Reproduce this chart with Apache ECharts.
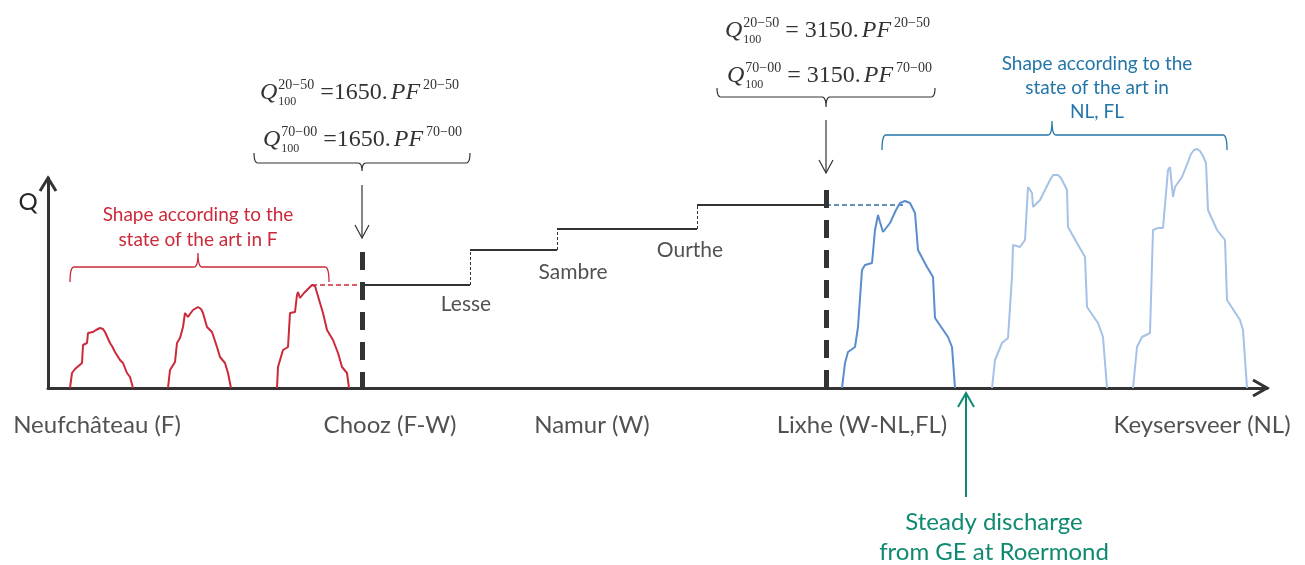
<!DOCTYPE html>
<html>
<head>
<meta charset="utf-8">
<script src="https://cdn.jsdelivr.net/npm/echarts@6/dist/echarts.min.js"></script>
<style>html,body{margin:0;padding:0;background:#fff}#c{width:1305px;height:565px}</style>
</head>
<body>
<div id="c"></div>
<script>
// ---- data (x = distance along the river, Q = discharge, schematic units) ----
const stations = ['Neufchâteau (F)', 'Chooz (F-W)', 'Namur (W)', 'Lixhe (W-NL,FL)', 'Keysersveer (NL)'];
const stationLabelX = [49, 342, 544, 814, 1154];
const tributaries = ['Lesse', 'Sambre', 'Ourthe'];
const tributaryLabelPos = [[418, 84], [525, 116], [642, 138]];
const stepX = [314, 422, 509, 649, 778];      // Chooz, Lesse, Sambre, Ourthe confluences, Lixhe
const stepQ = [103, 138, 159, 183];           // steady discharge levels between confluences
const choozX = 314, choozTop = 136;
const lixheX = 778, lixheTop = 198;
const redHydro1 = [[22,0],[24,15],[27,19],[29,21],[34,25],[35,43],[39,45],[40,55],[45,56],[48,58],[52,60],[55,59],[57,56],[62,45],[64,42],[67,36],[72,28],[75,25],[79,15],[82,11],[85,0]];
const redHydro2 = [[120,0],[122,18],[127,26],[129,45],[132,50],[135,61],[137,75],[140,71],[142,74],[145,78],[150,81],[153,79],[155,75],[159,61],[164,56],[169,41],[172,31],[177,25],[180,15],[183,0]];
const redHydro3 = [[229,0],[230,21],[235,38],[240,41],[242,75],[247,76],[249,93],[250,96],[252,90],[256,95],[259,98],[264,103],[267,102],[269,100],[272,85],[275,75],[279,58],[285,48],[290,35],[294,21],[299,15],[301,0]];
const blueHydro1 = [[794,0],[797,25],[800,36],[807,41],[810,61],[814,118],[817,123],[824,125],[827,158],[830,173],[832,166],[835,156],[842,165],[848,178],[852,185],[857,187],[862,185],[864,183],[867,175],[870,138],[879,121],[885,111],[887,70],[900,51],[904,41],[907,0]];
const blueHydro2 = [[944,0],[947,28],[954,45],[960,50],[964,111],[965,143],[972,141],[977,148],[980,201],[984,195],[985,181],[992,188],[998,200],[1002,208],[1005,213],[1007,214],[1010,213],[1013,210],[1016,204],[1019,198],[1020,161],[1029,145],[1037,131],[1039,81],[1050,65],[1055,51],[1059,0]];
const blueHydro3 = [[1085,0],[1089,41],[1094,51],[1102,55],[1105,158],[1110,160],[1115,160],[1120,218],[1122,221],[1125,191],[1127,201],[1134,211],[1140,226],[1143,234],[1146,238],[1149,239],[1152,237],[1155,232],[1158,225],[1160,178],[1169,158],[1177,148],[1179,88],[1192,68],[1195,58],[1199,0]];
const redPeakQ = 103, redPeakX = 264;
const bluePeakX = 857;

// ---- build ----
const chart = echarts.init(document.getElementById('c'), null, {renderer: 'canvas'});
const ctx = document.createElement('canvas').getContext('2d');
function tw(t, f) { ctx.font = f; return ctx.measureText(t).width; }
const DARK = '#333333', TXT = '#262626';
const RED = '#cc2a3a', BLUE_T = '#2476a8', GREEN = '#0f8a70';
const LABEL_FONT = 'Lato';

function hydro(data, color, w) {
  return {type: 'line', data: data, showSymbol: false, symbol: 'none', clip: false, silent: true,
    lineStyle: {color: color, width: w}, z: 3};
}
function seg(coords, style, z) {
  return {type: 'lines', coordinateSystem: 'cartesian2d', polyline: false, silent: true,
    data: coords.map(c => ({coords: c})), lineStyle: Object.assign({opacity: 1, curveness: 0}, style), z: z || 4};
}
const horiz = [], vert = [];
for (let i = 0; i < stepQ.length; i++) {
  horiz.push([[stepX[i], stepQ[i]], [stepX[i + 1], stepQ[i]]]);
  if (i > 0) vert.push([[stepX[i], stepQ[i - 1]], [stepX[i], stepQ[i]]]);
}

function txt(text, x, y, font, fill, align) {
  return {type: 'text', x: x, y: y, silent: true, z: 10,
    style: {text: text, font: font, fill: fill, textAlign: align || 'left', textVerticalAlign: 'middle', align: align || 'left', verticalAlign: 'middle'}};
}
function formula(x, cy, sup, num, spaced) {
  const fQ = 'italic 24px "Liberation Serif"', fS = '14px "Liberation Serif"', fB = '12px "Liberation Serif"', fM = '24px "Liberation Serif"';
  const c = '#333333';
  const els = [];
  els.push(txt('Q', x, cy, fQ, c));
  const xs = x + tw('Q', fQ) + 1;
  els.push(txt(sup, xs, cy - 8, fS, c));
  els.push(txt('100', xs, cy + 9, fB, c));
  const xe = xs + tw(sup, fS) + 6;
  const eq = '=' + (spaced ? ' ' : '') + num + '.';
  els.push(txt(eq, xe, cy, fM, c));
  const xp = xe + tw(eq, fM) + 3;
  els.push(txt('PF', xp, cy, fQ, c));
  els.push(txt(sup, xp + tw('PF', fQ) + 3, cy - 8, fS, c));
  return els;
}
function quad(p0, p1, p2, n) {
  const out = [];
  for (let i = 1; i <= n; i++) {
    const t = i / n, a = (1 - t) * (1 - t), b = 2 * (1 - t) * t, c = t * t;
    out.push([a * p0[0] + b * p1[0] + c * p2[0], a * p0[1] + b * p1[1] + c * p2[1]]);
  }
  return out;
}
function brace(x1, x2, xm, yh, e, t, color, w) {
  const r = 4, pts = [[x1, yh + e]];
  pts.push(...quad([x1, yh + e], [x1, yh], [x1 + r, yh], 6));
  pts.push([xm - r, yh]);
  pts.push(...quad([xm - r, yh], [xm, yh], [xm, yh + t], 6));
  pts.push(...quad([xm, yh + t], [xm, yh], [xm + r, yh], 6));
  pts.push([x2 - r, yh]);
  pts.push(...quad([x2 - r, yh], [x2, yh], [x2, yh + e], 6));
  return {type: 'polyline', silent: true, z: 10, shape: {points: pts}, style: {stroke: color, fill: null, lineWidth: w}};
}
function pl(points, color, w) {
  return {type: 'polyline', silent: true, z: 10, shape: {points: points}, style: {stroke: color, fill: null, lineWidth: w}};
}

const graphics = [].concat(
  // axis arrow heads
  pl([[40, 191], [48, 178], [56, 191]], DARK, 3),
  pl([[1253, 380], [1267, 388], [1253, 396]], DARK, 3),
  [txt('Q', 28, 202, '24px ' + LABEL_FONT, TXT, 'center')],
  // formulas + braces + arrows
  formula(260, 93, '20−50', '1650', false),
  formula(263, 140, '70−00', '1650', false),
  [brace(254, 470, 362, 163, -10, 8, DARK, 1.2)],
  pl([[362, 185], [362, 238]], DARK, 1.2),
  pl([[355, 225], [362, 238], [369, 225]], DARK, 1.2),
  formula(725, 31, '20−50', '3150', true),
  formula(727, 76, '70−00', '3150', true),
  [brace(717, 935, 826, 97, -9, 10, DARK, 1.2)],
  pl([[826, 120], [826, 173]], DARK, 1.2),
  pl([[819, 160], [826, 173], [833, 160]], DARK, 1.2),
  // red annotation
  [txt('Shape according to the', 198, 215, '19px ' + LABEL_FONT, RED, 'center'),
   txt('state of the art in F', 198, 240, '19px ' + LABEL_FONT, RED, 'center'),
   brace(70, 329, 198, 267, 15, -14, RED, 1.3)],
  // blue annotation
  [txt('Shape according to the', 1097, 64, '19px ' + LABEL_FONT, BLUE_T, 'center'),
   txt('state of the art in', 1097, 88, '19px ' + LABEL_FONT, BLUE_T, 'center'),
   txt('NL, FL', 1097, 112, '19px ' + LABEL_FONT, BLUE_T, 'center'),
   brace(882, 1227, 1052, 135, 15, -14, BLUE_T, 1.3)],
  // green annotation
  pl([[966, 497], [966, 393]], GREEN, 2),
  pl([[958, 407], [966, 393], [974, 407]], GREEN, 2),
  [txt('Steady discharge', 994, 522, '24px ' + LABEL_FONT, GREEN, 'center'),
   txt('from GE at Roermond', 994, 552, '24px ' + LABEL_FONT, GREEN, 'center')]
);

const option = {
  animation: false,
  backgroundColor: '#ffffff',
  grid: {left: 48, right: 38, top: 178, bottom: 177, containLabel: false},
  xAxis: {type: 'value', min: 0, max: 1219,
    axisLine: {show: true, onZero: false, lineStyle: {color: DARK, width: 3}},
    axisTick: {show: false}, axisLabel: {show: false}, splitLine: {show: false}},
  yAxis: {type: 'value', min: 0, max: 210,
    axisLine: {show: true, onZero: false, lineStyle: {color: DARK, width: 3}},
    axisTick: {show: false}, axisLabel: {show: false}, splitLine: {show: false}},
  series: [
    hydro(redHydro1, RED, 2), hydro(redHydro2, RED, 2), hydro(redHydro3, RED, 2),
    hydro(blueHydro1, '#5b8dcc', 2), hydro(blueHydro2, '#a6c1e6', 2), hydro(blueHydro3, '#a6c1e6', 2),
    seg([[[redPeakX, redPeakQ], [choozX, redPeakQ]]], {color: RED, width: 1.5, type: [5, 3]}, 2),
    seg([[[lixheX, stepQ[3]], [bluePeakX, stepQ[3]]]], {color: '#2e6fa8', width: 1.5, type: [5, 3]}, 2),
    seg(horiz, {color: DARK, width: 2}, 4),
    seg(vert, {color: DARK, width: 1, type: [3, 2]}, 4),
    seg([[[choozX, choozTop], [choozX, 0]], [[lixheX, lixheTop], [lixheX, 0]]], {color: DARK, width: 5, type: [18, 12]}, 5),
    {type: 'scatter', clip: false, silent: true, symbolSize: 1, itemStyle: {color: 'rgba(0,0,0,0)'},
      data: stations.map((s, i) => ({name: s, value: [stationLabelX[i], -37]})),
      label: {show: true, position: 'inside', formatter: '{b}', color: TXT, fontFamily: LABEL_FONT, fontSize: 24}},
    {type: 'scatter', clip: false, silent: true, symbolSize: 1, itemStyle: {color: 'rgba(0,0,0,0)'},
      data: tributaries.map((s, i) => ({name: s, value: tributaryLabelPos[i]})),
      label: {show: true, position: 'inside', formatter: '{b}', color: TXT, fontFamily: LABEL_FONT, fontSize: 21}}
  ],
  graphic: graphics
};
chart.setOption(option);
</script>
</body>
</html>
